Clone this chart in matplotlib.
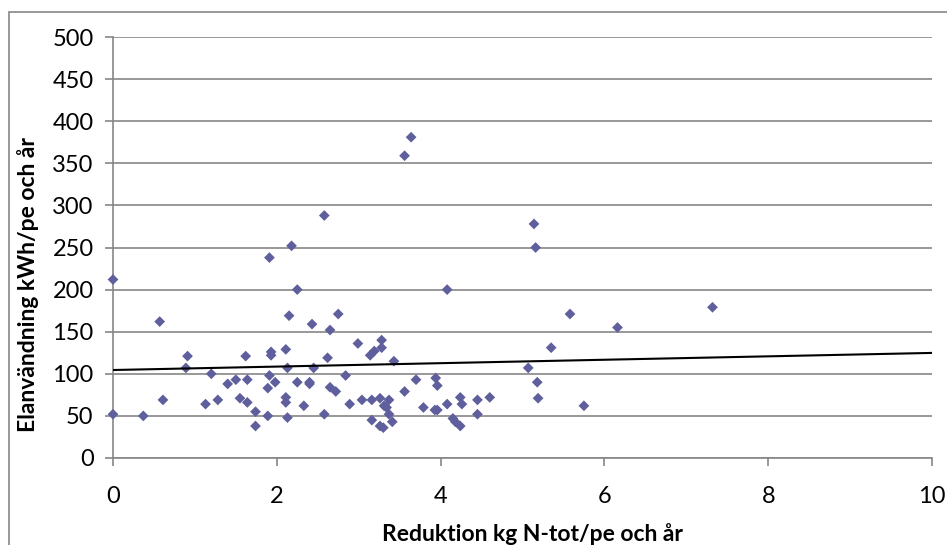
import matplotlib
matplotlib.use("Agg")
import matplotlib.pyplot as plt
from matplotlib.patches import Rectangle

# Reduktion kg N-tot/pe och år
red_n = [0.0, 0.0, 0.37, 0.57, 0.61, 0.91, 0.89, 1.13, 1.20, 1.28,
         1.40, 1.50, 1.55, 1.62, 1.64, 1.64, 1.74, 1.74, 1.89, 1.89,
         1.91, 1.91, 1.93, 1.93, 1.98, 2.11, 2.11, 2.11, 2.13, 2.13,
         2.15, 2.18, 2.25, 2.25, 2.33, 2.40, 2.40, 2.43, 2.45, 2.58,
         2.58, 2.62, 2.65, 2.65, 2.72, 2.75, 2.84, 2.89, 2.99, 3.04,
         3.14, 3.16, 3.16, 3.19, 3.26, 3.26, 3.28, 3.28, 3.30, 3.31,
         3.34, 3.37, 3.37, 3.41, 3.43, 3.56, 3.56, 3.64, 3.70, 3.79,
         3.93, 3.94, 3.96, 3.96, 4.08, 4.08, 4.15, 4.18, 4.24, 4.24,
         4.26, 4.45, 4.45, 4.60, 5.07, 5.14, 5.16, 5.18, 5.19, 5.35,
         5.58, 5.75, 6.16, 7.32]

# Elanvändning kWh/pe och år
el_use = [212, 52, 50, 162, 69, 121, 107, 64, 100, 69,
          88, 93, 71, 121, 93, 66, 55, 38, 83, 50,
          238, 98, 126, 122, 90, 129, 72, 66, 107, 48,
          169, 252, 200, 90, 62, 90, 88, 159, 107, 288,
          52, 119, 152, 84, 79, 171, 98, 64, 136, 69,
          122, 69, 45, 127, 71, 38, 140, 131, 36, 62,
          60, 69, 52, 43, 115, 359, 79, 381, 93, 60,
          57, 95, 57, 86, 200, 64, 47, 43, 38, 72,
          64, 69, 52, 72, 107, 278, 250, 90, 71, 131,
          171, 62, 155, 179]

# linear trend line
trend_x = [0, 10]
trend_intercept = 104.5
trend_slope = 2.03

y_ticks = [0, 50, 100, 150, 200, 250, 300, 350, 400, 450, 500]
x_ticks = [0, 2, 4, 6, 8, 10]

plt.rcParams['font.family'] = ['Lato', 'DejaVu Sans']

fig = plt.figure(figsize=(9.47, 5.45), dpi=100)
ax = fig.add_axes([113/947, 87/545, 819/947, 421/545])

grid_c = '#868686'
ax.set_xlim(0, 10)
ax.set_ylim(0, 500)
ax.set_yticks(y_ticks)
ax.set_xticks(x_ticks)
ax.yaxis.grid(True, color=grid_c, linewidth=1.2)
ax.set_axisbelow(True)

for s in ['top', 'right']:
    ax.spines[s].set_visible(False)
for s in ['left', 'bottom']:
    ax.spines[s].set_color(grid_c)
    ax.spines[s].set_linewidth(1.2)
ax.tick_params(axis='both', colors=grid_c, length=6, width=1.2,
               labelcolor='black', labelsize=17)
ax.tick_params(axis='y', pad=8)
ax.tick_params(axis='x', pad=14)

ax.scatter(red_n, el_use, marker='D', s=30, color='#5F5F9D',
           edgecolors='none', zorder=3, clip_on=False)

trend_y = [trend_intercept + trend_slope * x for x in trend_x]
ax.plot(trend_x, trend_y, color='black', linewidth=1.5, zorder=4)

ax.set_xlabel('Reduktion kg N-tot/pe och år', fontsize=16.5,
              fontweight='bold', va='center')
ax.set_ylabel('Elanvändning kWh/pe och år', fontsize=16.5,
              fontweight='bold', va='center')
ax.xaxis.set_label_coords(0.5116, -0.1805)
ax.yaxis.set_label_coords(-0.1038, 0.411)

fig.patches.append(Rectangle((9/947, -0.1), 1.2, (545 - 12)/545 + 0.1,
                             transform=fig.transFigure, fill=False,
                             edgecolor=grid_c, linewidth=1.2))

fig.savefig('out.png', dpi=100)
